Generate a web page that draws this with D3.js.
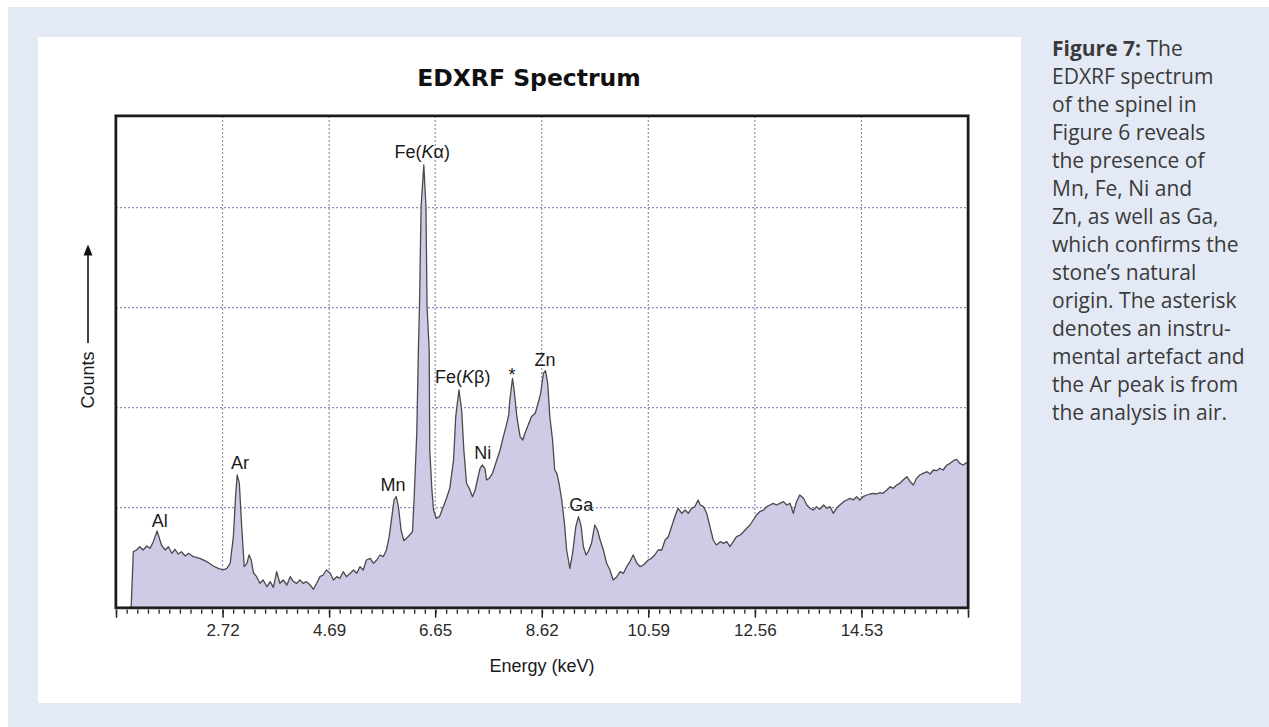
<!DOCTYPE html>
<html>
<head>
<meta charset="utf-8">
<script src="https://cdn.jsdelivr.net/npm/d3@7"></script>
<style>
  html, body { margin: 0; padding: 0; background: #ffffff; }
  svg { display: block; }
</style>
</head>
<body>
<svg id="fig" width="1269" height="727"></svg>
<script>
// Spectrum samples: energy in keV and detector counts (arbitrary units)
const energy = [
  1.03, 1.07, 1.13, 1.19, 1.25, 1.32, 1.38, 1.44, 1.51, 1.59, 1.66, 1.72, 1.78, 1.84, 1.90, 1.96,
  2.03, 2.09, 2.18, 2.30, 2.43, 2.55, 2.64, 2.73, 2.80, 2.86, 2.92, 2.96, 2.99, 3.03, 3.07, 3.12,
  3.17, 3.21, 3.25, 3.29, 3.35, 3.41, 3.47, 3.54, 3.60, 3.66, 3.72, 3.78, 3.84, 3.91, 3.97, 4.03,
  4.09, 4.15, 4.21, 4.27, 4.34, 4.40, 4.46, 4.52, 4.58, 4.64, 4.71, 4.77, 4.83, 4.89, 4.95, 5.01,
  5.08, 5.14, 5.20, 5.26, 5.32, 5.38, 5.45, 5.51, 5.57, 5.63, 5.69, 5.75, 5.80, 5.85, 5.89, 5.93,
  5.97, 6.02, 6.07, 6.12, 6.18, 6.23, 6.26, 6.31, 6.34, 6.36, 6.39, 6.44, 6.48, 6.50, 6.54, 6.55,
  6.59, 6.62, 6.67, 6.73, 6.80, 6.86, 6.92, 6.99, 7.03, 7.09, 7.14, 7.18, 7.23, 7.28, 7.34, 7.39,
  7.43, 7.48, 7.52, 7.57, 7.60, 7.65, 7.71, 7.79, 7.85, 7.91, 7.96, 8.01, 8.03, 8.08, 8.11, 8.16,
  8.22, 8.27, 8.31, 8.37, 8.43, 8.50, 8.56, 8.60, 8.65, 8.69, 8.73, 8.77, 8.82, 8.86, 8.90, 8.94,
  8.99, 9.04, 9.08, 9.14, 9.19, 9.25, 9.30, 9.35, 9.39, 9.44, 9.48, 9.54, 9.60, 9.65, 9.70, 9.76,
  9.82, 9.88, 9.94, 10.01, 10.07, 10.13, 10.19, 10.25, 10.31, 10.38, 10.44, 10.50, 10.59, 10.65, 10.71, 10.77,
  10.84, 10.90, 10.96, 11.02, 11.08, 11.14, 11.21, 11.27, 11.33, 11.39, 11.45, 11.51, 11.55, 11.61, 11.67, 11.73,
  11.79, 11.85, 11.92, 11.98, 12.04, 12.10, 12.16, 12.22, 12.29, 12.35, 12.41, 12.47, 12.53, 12.59, 12.65, 12.72,
  12.78, 12.84, 12.90, 12.96, 13.02, 13.09, 13.15, 13.21, 13.27, 13.33, 13.39, 13.46, 13.52, 13.58, 13.64, 13.70,
  13.76, 13.83, 13.89, 13.95, 14.01, 14.07, 14.13, 14.20, 14.26, 14.32, 14.38, 14.44, 14.50, 14.56, 14.63, 14.69,
  14.75, 14.81, 14.87, 14.93, 15.00, 15.06, 15.12, 15.18, 15.24, 15.30, 15.37, 15.43, 15.49, 15.55, 15.61, 15.67,
  15.74, 15.80, 15.86, 15.92, 15.98, 16.04, 16.11, 16.17, 16.23, 16.29, 16.35, 16.41, 16.47, 16.50
];
const counts = [
  0, 560, 577, 610, 577, 617, 594, 660, 767, 627, 577, 610, 544, 584, 537, 560,
  517, 544, 510, 494, 460, 417, 394, 377, 394, 444, 710, 1110, 1327, 1244, 844, 410,
  444, 527, 477, 350, 310, 244, 277, 210, 260, 204, 360, 244, 277, 227, 310, 260,
  244, 277, 244, 260, 227, 184, 244, 310, 327, 377, 344, 277, 310, 294, 360, 310,
  344, 377, 344, 410, 377, 477, 494, 444, 477, 527, 510, 577, 710, 910, 1077, 1110,
  1010, 777, 670, 694, 727, 760, 1077, 1743, 2577, 3010, 4010, 4427, 4010, 3010, 2577, 1577,
  1177, 977, 894, 910, 1010, 1094, 1194, 1477, 1910, 2177, 1977, 1577, 1244, 1194, 1110, 1177,
  1277, 1394, 1427, 1394, 1277, 1294, 1344, 1477, 1577, 1710, 1810, 1927, 2077, 2294, 2177, 1910,
  1710, 1677, 1744, 1827, 1910, 1944, 2060, 2144, 2344, 2370, 2244, 1910, 1677, 1377, 1344, 1244,
  1077, 844, 577, 394, 544, 810, 910, 810, 610, 527, 560, 644, 827, 777, 677, 577,
  444, 377, 277, 310, 360, 344, 410, 460, 527, 444, 410, 427, 477, 494, 527, 577,
  577, 677, 710, 810, 910, 994, 944, 977, 944, 994, 1010, 1077, 1027, 1010, 944, 810,
  677, 627, 660, 644, 660, 610, 660, 710, 727, 760, 794, 827, 877, 927, 960, 977,
  1010, 1027, 1044, 1027, 1044, 1060, 1027, 1044, 944, 1060, 1127, 1094, 1027, 994, 977, 1010,
  984, 1027, 994, 1010, 944, 994, 1027, 1060, 1077, 1094, 1077, 1110, 1077, 1110, 1127, 1137,
  1144, 1137, 1150, 1144, 1177, 1210, 1194, 1227, 1244, 1277, 1310, 1260, 1227, 1294, 1327, 1344,
  1360, 1337, 1377, 1370, 1394, 1377, 1427, 1444, 1470, 1484, 1444, 1427, 1450, 1450
];

// Axis: labelled energies, horizontal grid levels
const tickValues = [2.72, 4.69, 6.65, 8.62, 10.59, 12.56, 14.53];
const tickLabels = ["2.72", "4.69", "6.65", "8.62", "10.59", "12.56", "14.53"];
const gridCounts = [1000, 2000, 3000, 4000];
const energyDomain = [0.75, 16.5];
const countDomain = [0, 4917];

// Peak annotations (label centre in energy / counts)
const peakNames  = ["Al", "Ar", "Mn", "Fe(Kα)", "Fe(Kβ)", "Ni", "*", "Zn", "Ga"];
const peakEnergy = [1.56, 3.04, 5.87, 6.41, 7.16, 7.53, 8.07, 8.68, 9.35];
const peakCounts = [867, 1447, 1227, 4557, 2307, 1547, 2330, 2477, 1027];

const captionLines = [
  "EDXRF spectrum", "of the spinel in", "Figure 6 reveals", "the presence of",
  "Mn, Fe, Ni and", "Zn, as well as Ga,", "which confirms the", "stone’s natural",
  "origin. The asterisk", "denotes an instru-", "mental artefact and",
  "the Ar peak is from", "the analysis in air."
];

const svg = d3.select("#fig");
const W = 1269, H = 727;

// Page backgrounds
svg.append("rect").attr("x", 8).attr("y", 7).attr("width", W - 8).attr("height", H - 7).attr("fill", "#e4eaf5");
svg.append("rect").attr("x", 38).attr("y", 37).attr("width", 983).attr("height", 666).attr("fill", "#ffffff");

const plot = { left: 116, top: 116, right: 968, bottom: 607.7 };
const x = d3.scaleLinear().domain(energyDomain).range([plot.left, plot.right]);
const y = d3.scaleLinear().domain(countDomain).range([plot.bottom, plot.top]);

svg.append("defs").append("clipPath").attr("id", "plotClip")
  .append("rect").attr("x", plot.left).attr("y", plot.top)
  .attr("width", plot.right - plot.left).attr("height", plot.bottom - plot.top);

// Grid
const grid = svg.append("g").attr("stroke", "#8c90b8").attr("stroke-width", 1.2).attr("stroke-dasharray", "2,2");
grid.selectAll("line.v").data(tickValues).join("line").attr("class", "v")
  .attr("x1", d => x(d)).attr("x2", d => x(d)).attr("y1", plot.top).attr("y2", plot.bottom);
grid.selectAll("line.h").data(gridCounts).join("line").attr("class", "h")
  .attr("x1", plot.left).attr("x2", plot.right).attr("y1", d => y(d)).attr("y2", d => y(d));

// Spectrum
const pts = energy.map((e, i) => ({ e, c: counts[i] }));
const g = svg.append("g").attr("clip-path", "url(#plotClip)");
g.append("path").datum(pts)
  .attr("fill", "#cfcbe6")
  .attr("d", d3.area().x(d => x(d.e)).y0(y(0)).y1(d => y(d.c)));
g.append("path").datum(pts)
  .attr("fill", "none").attr("stroke", "#4a4a4a").attr("stroke-width", 1.3).attr("stroke-linejoin", "round")
  .attr("d", d3.line().x(d => x(d.e)).y(d => y(d.c)));

// X axis: minor and major ticks
const minorStep = (energyDomain[1] - energyDomain[0]) / 80;
const minorAxis = d3.axisBottom(x).tickValues(d3.range(81).map(i => energyDomain[0] + i * minorStep))
  .tickSize(6).tickFormat("");
const gMinor = svg.append("g").attr("transform", `translate(0,${plot.bottom})`).call(minorAxis);
gMinor.select(".domain").remove();
gMinor.selectAll(".tick line").attr("stroke", "#222").attr("stroke-width", 1.3);

const majorAxis = d3.axisBottom(x).tickValues([energyDomain[0], ...tickValues, energyDomain[1]])
  .tickSize(10).tickPadding(6)
  .tickFormat(d => { const i = tickValues.indexOf(d); return i >= 0 ? tickLabels[i] : ""; });
const gMajor = svg.append("g").attr("transform", `translate(0,${plot.bottom})`).call(majorAxis);
gMajor.select(".domain").remove();
gMajor.selectAll(".tick line").attr("stroke", "#222").attr("stroke-width", 1.5);
gMajor.selectAll(".tick text").attr("fill", "#2a2a2a")
  .style("font-family", "'Liberation Sans', Arial, sans-serif").style("font-size", "17px");

// Frame
svg.append("rect").attr("x", plot.left - 1.5).attr("y", plot.top - 1.5)
  .attr("width", plot.right - plot.left + 3).attr("height", plot.bottom - plot.top + 3)
  .attr("fill", "none").attr("stroke", "#b0b0b0").attr("stroke-width", 1);
svg.append("rect").attr("x", plot.left).attr("y", plot.top)
  .attr("width", plot.right - plot.left).attr("height", plot.bottom - plot.top)
  .attr("fill", "none").attr("stroke", "#1a1a1a").attr("stroke-width", 2.5);

// Peak labels
const labelFont = "'Liberation Sans', Arial, sans-serif";
const labels = svg.append("g").style("font-family", labelFont).style("font-size", "18px").attr("fill", "#1a1a1a");
peakNames.forEach((name, i) => {
  const t = labels.append("text").attr("x", x(peakEnergy[i])).attr("y", y(peakCounts[i]))
    .attr("text-anchor", "middle").attr("dominant-baseline", "central");
  const m = name.match(/^Fe\((K)(.)\)$/);
  if (m) {
    t.append("tspan").text("Fe(");
    t.append("tspan").attr("font-style", "italic").text("K");
    t.append("tspan").text(m[2] + ")");
  } else {
    t.text(name);
  }
});

// Title and axis titles
svg.append("text").attr("x", 529).attr("y", 78).attr("text-anchor", "middle").attr("dominant-baseline", "central")
  .style("font-family", "'DejaVu Sans', sans-serif").style("font-weight", "bold").style("font-size", "23.5px")
  .attr("fill", "#111").text("EDXRF Spectrum");

svg.append("text").attr("x", (plot.left + plot.right) / 2).attr("y", 666).attr("text-anchor", "middle")
  .attr("dominant-baseline", "central")
  .style("font-family", labelFont).style("font-size", "18px").attr("fill", "#1a1a1a").text("Energy (keV)");

svg.append("text").attr("transform", "translate(88,380) rotate(-90)").attr("text-anchor", "middle")
  .attr("dominant-baseline", "central")
  .style("font-family", labelFont).style("font-size", "18px").attr("fill", "#1a1a1a").text("Counts");

// Upward arrow beside the Counts label
svg.append("defs").append("marker").attr("id", "arrowHead")
  .attr("viewBox", "0 0 10 10").attr("refX", 5).attr("refY", 5)
  .attr("markerWidth", 7).attr("markerHeight", 9).attr("orient", "auto")
  .append("path").attr("d", "M0,1 L10,5 L0,9 Z").attr("fill", "#111");
svg.append("line").attr("x1", 88).attr("x2", 88).attr("y1", 343).attr("y2", 250)
  .attr("stroke", "#111").attr("stroke-width", 1.6).attr("marker-end", "url(#arrowHead)");

// Caption
const cap = svg.append("text").attr("x", 1052).attr("y", 56)
  .style("font-family", "'Open Sans', sans-serif").style("font-size", "21px").attr("fill", "#3a3a3a");
cap.append("tspan").attr("x", 1052).attr("font-weight", "bold").text("Figure 7:");
cap.append("tspan").text(" The");
captionLines.forEach((line, i) => {
  cap.append("tspan").attr("x", 1052).attr("dy", 28).text(line);
});
</script>
</body>
</html>
